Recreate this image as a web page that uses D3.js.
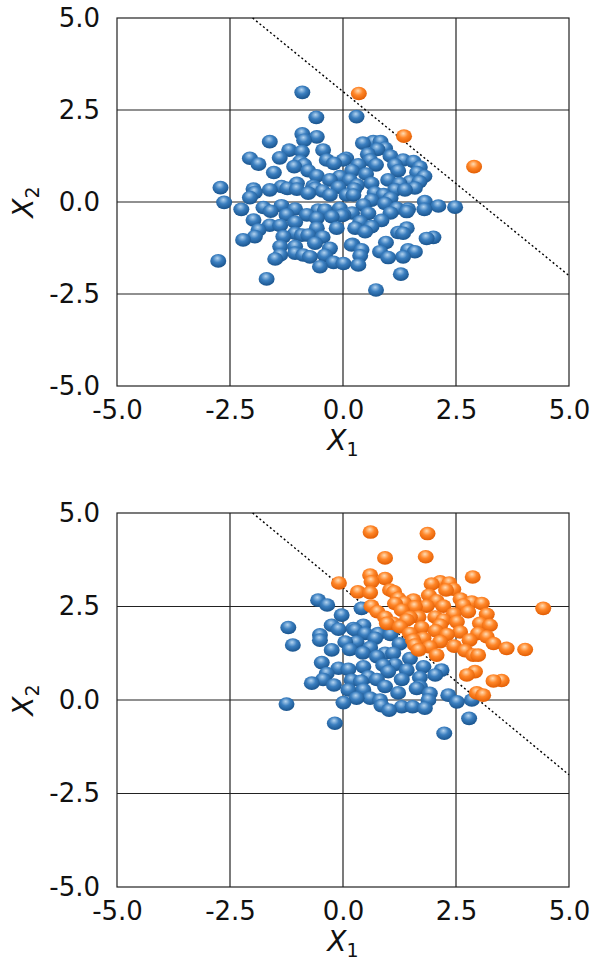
<!DOCTYPE html>
<html>
<head>
<meta charset="utf-8">
<script src="https://cdn.jsdelivr.net/npm/d3@7.9.0/dist/d3.min.js"></script>
<style>
  body { margin: 0; background: #fff; }
  text { font-family: "DejaVu Sans", sans-serif; fill: #111; }
</style>
</head>
<body>
<svg id="chart" width="593" height="965"></svg>
<script>
// values
const ticks = [-5, -2.5, 0, 2.5, 5];
const gridTicks = [-2.5, 0, 2.5];
const boundary = [[-2, 5], [5, -2]];

const topBlue = [
  [-0.90,2.98],[-0.59,2.30],[0.30,2.32],[-0.90,1.85],[-0.58,1.77],[-1.62,1.64],[-0.86,1.68],
  [-1.19,1.41],[-0.91,1.37],[-0.44,1.41],[-0.36,1.14],[-2.06,1.19],[-1.87,1.03],[-1.53,0.80],
  [-1.08,0.96],[-0.86,1.01],[-0.77,0.85],[-0.58,0.71],[0.01,1.14],[-0.07,0.69],[0.44,1.60],
  [0.67,1.64],[0.83,1.64],[0.76,1.43],[0.93,1.46],[0.07,1.19],[0.34,1.01],[0.60,1.14],
  [0.73,1.01],[0.51,0.76],[1.15,1.01],[1.33,1.14],[1.56,1.10],[1.22,0.85],[1.64,0.80],
  [1.00,0.60],[1.48,0.55],[1.69,0.55],[0.15,0.60],[0.63,0.51],[-2.71,0.39],[-2.63,-0.01],
  [-2.06,0.12],[-1.95,0.26],[-1.62,0.33],[-1.76,-0.15],[-1.36,-0.10],[-1.06,-0.19],[-1.23,0.37],
  [-1.02,0.35],[-0.77,0.24],[-0.62,0.37],[-1.98,-0.49],[-1.87,-0.76],[-1.62,-0.63],[-1.39,-0.64],
  [-1.06,-0.55],[-0.80,-0.35],[-0.58,-0.44],[-0.55,-0.22],[-0.40,-0.22],[-0.07,-0.17],[-0.03,-0.37],
  [-0.14,-0.71],[-2.21,-1.03],[-1.95,-0.94],[-1.32,-0.94],[-1.06,-0.85],[-0.91,-0.90],[-0.77,-0.90],
  [-0.58,-0.71],[-1.39,-1.21],[-1.06,-1.21],[-0.62,-1.12],[-1.39,-1.44],[-1.06,-1.39],[-0.88,-1.44],
  [-0.73,-1.49],[-0.29,-1.26],[-1.50,-1.55],[-0.51,-1.76],[-0.21,-1.64],[0.01,-1.67],[0.19,-1.17],
  [-2.76,-1.60],[-1.69,-2.09],[0.08,0.19],[0.23,0.19],[0.63,0.05],[0.93,-0.04],[1.19,-0.17],
  [1.41,-0.26],[1.44,-0.19],[1.81,0.01],[2.11,-0.11],[2.48,-0.14],[0.45,-0.08],[0.56,-0.31],
  [0.01,-0.35],[0.38,-0.54],[0.63,-0.67],[0.49,-0.81],[0.27,-0.71],[1.22,-0.83],[1.41,-0.71],
  [1.33,-0.85],[1.85,-0.99],[2.00,-0.96],[0.21,-1.15],[0.41,-1.30],[0.38,-1.46],[0.34,-1.71],
  [0.82,-1.35],[1.00,-1.51],[1.33,-1.49],[1.44,-1.30],[1.59,-1.35],[1.28,-1.96],[0.73,-2.39],
  [-1.36,0.42],[-1.02,0.51],[-0.66,0.43],[-0.29,0.60],[-1.98,0.35],[-0.29,0.19],[1.15,0.33],
  [1.37,0.33],[1.59,0.38],[0.31,0.46],[-0.20,1.05],[0.20,0.85],[0.90,0.20],[-0.45,-0.95],
  [0.55,1.30],[1.05,1.25],[1.70,0.95],[1.80,0.70],[0.25,0.35],[-0.10,0.40],[-0.45,0.30],
  [0.70,0.25],[1.05,0.10],[1.25,0.50],[-0.25,-0.40],[0.20,-0.30],[0.85,-0.50],[1.05,-0.30],
  [-1.25,-0.35],[-1.60,-0.25],[-0.95,1.10],[-1.40,1.20],[-0.40,-1.45],[0.95,-1.10],[1.80,-0.20],
  [-2.25,-0.20]
];
const topOrange = [[0.35,2.95],[1.35,1.79],[2.90,0.96]];

const bottomBlue = [
  [-0.55,2.67],[-0.35,2.54],[-0.03,2.27],[0.41,2.45],[-1.21,1.94],[-0.10,1.89],[0.23,1.91],
  [0.45,2.00],[-1.11,1.47],[-0.51,1.74],[-0.51,1.60],[-0.25,1.34],[0.15,1.35],[0.27,1.87],
  [0.49,1.78],[0.71,1.65],[0.78,1.78],[0.44,1.26],[0.75,1.16],[0.93,1.25],[1.11,1.25],
  [-0.47,1.00],[-0.10,0.85],[0.12,0.82],[-0.36,0.71],[-0.44,0.55],[-0.69,0.45],[0.19,0.53],
  [0.45,0.89],[0.56,0.62],[0.75,0.55],[0.89,0.93],[1.00,0.76],[0.93,0.36],[1.41,0.80],
  [1.48,1.11],[0.12,0.27],[0.45,0.27],[0.60,0.05],[0.82,0.00],[1.22,0.19],[1.02,-0.27],
  [1.30,-0.18],[1.54,-0.18],[-1.25,-0.11],[0.01,-0.07],[-0.18,-0.62],[1.63,0.31],[1.78,0.89],
  [2.04,0.67],[2.18,0.80],[1.70,0.36],[1.92,0.18],[1.89,0.00],[1.81,-0.22],[2.33,0.13],
  [2.52,-0.05],[2.85,0.00],[2.79,-0.49],[2.24,-0.89],[1.25,1.50],[1.05,1.75],[0.30,1.55],
  [0.05,1.55],[-0.25,2.00],[0.60,1.40],[1.30,0.55],[1.15,0.95],[-0.20,0.40],[0.40,0.50],
  [1.70,0.60],[0.85,-0.15],[0.30,0.05]
];
const bottomOrange = [
  [0.61,4.49],[0.93,3.80],[-0.09,3.13],[0.60,3.34],[0.93,3.25],[0.63,3.16],[0.33,2.89],
  [0.60,2.87],[1.04,2.94],[1.13,2.89],[1.22,2.72],[1.15,2.58],[1.56,2.67],[1.59,2.49],
  [0.63,2.51],[0.76,2.36],[0.93,2.21],[1.11,2.05],[1.41,2.14],[1.48,2.21],[1.87,4.45],
  [1.83,3.83],[2.87,3.29],[1.96,3.10],[2.15,3.16],[2.35,3.13],[2.44,2.96],[2.28,2.94],
  [1.85,2.51],[2.07,2.65],[2.22,2.51],[2.66,2.54],[2.85,2.62],[3.07,2.58],[2.77,2.36],
  [3.18,2.29],[4.43,2.45],[1.67,2.22],[2.04,2.22],[2.22,2.14],[2.52,2.09],[3.03,2.05],
  [3.25,2.00],[1.74,1.94],[1.78,1.65],[2.15,2.00],[2.15,1.56],[2.59,1.82],[2.99,1.78],
  [3.18,1.69],[3.33,1.51],[3.62,1.38],[4.03,1.35],[2.46,1.44],[2.70,1.32],[2.88,1.20],
  [2.99,1.20],[1.92,1.42],[2.07,1.20],[2.74,0.67],[2.92,0.76],[3.33,0.51],[3.51,0.52],
  [2.96,0.19],[3.10,0.13],[0.97,2.05],[1.26,1.96],[1.48,1.78],[1.59,1.47],[1.67,1.34],[1.55,1.60],
  [1.30,2.40],[1.90,2.80],[2.45,2.30],[2.60,2.70],[2.30,1.75],[2.80,1.60],[1.35,2.60],[2.05,1.85]
];

const panels = [
  { top: 18, bottom: 386, blue: topBlue, orange: topOrange },
  { top: 513, bottom: 887, blue: bottomBlue, orange: bottomOrange }
];

const svg = d3.select('#chart');
const defs = svg.append('defs');

function sphere(id, light, mid, dark) {
  const g = defs.append('radialGradient').attr('id', id)
    .attr('cx', '45%').attr('cy', '38%').attr('r', '65%')
    .attr('fx', '45%').attr('fy', '30%');
  g.append('stop').attr('offset', '0%').attr('stop-color', light);
  g.append('stop').attr('offset', '45%').attr('stop-color', mid);
  g.append('stop').attr('offset', '100%').attr('stop-color', dark);
}
sphere('blueBall', '#b4d4f0', '#3b7fc0', '#165089');
sphere('orangeBall', '#ffdcb4', '#ff8628', '#e05a00');

const x = d3.scaleLinear().domain([-5, 5]).range([117, 569]);
const fmt = (d) => d.toFixed(1);

panels.forEach((p) => {
  const y = d3.scaleLinear().domain([-5, 5]).range([p.bottom, p.top]);
  const g = svg.append('g');

  // grid
  g.selectAll('.gx').data(gridTicks).join('line')
    .attr('x1', (d) => x(d)).attr('x2', (d) => x(d))
    .attr('y1', p.top).attr('y2', p.bottom)
    .attr('stroke', '#222').attr('stroke-width', 1.2);
  g.selectAll('.gy').data(gridTicks).join('line')
    .attr('class', 'gy')
    .attr('x1', 117).attr('x2', 569)
    .attr('y1', (d) => y(d)).attr('y2', (d) => y(d))
    .attr('stroke', '#222').attr('stroke-width', 1.2);

  g.append('rect')
    .attr('x', 117).attr('y', p.top)
    .attr('width', 569 - 117).attr('height', p.bottom - p.top)
    .attr('fill', 'none').attr('stroke', '#222').attr('stroke-width', 1.2);

  // axes
  const ax = g.append('g').attr('transform', `translate(0,${p.bottom})`)
    .call(d3.axisBottom(x).tickValues(ticks).tickSize(0).tickPadding(15).tickFormat(fmt));
  const ay = g.append('g').attr('transform', 'translate(117,0)')
    .call(d3.axisLeft(y).tickValues(ticks).tickSize(0).tickPadding(17).tickFormat(fmt));
  [ax, ay].forEach((a) => {
    a.select('.domain').remove();
    a.selectAll('text').attr('font-size', 26).attr('font-family', 'DejaVu Sans').attr('fill', '#111');
  });

  // axis titles
  const xt = g.append('text')
    .attr('x', 343).attr('y', p.bottom + 64)
    .attr('text-anchor', 'middle').attr('font-size', 28);
  xt.append('tspan').attr('font-style', 'italic').text('X');
  xt.append('tspan').attr('font-size', 19).attr('dy', 6).text('1');

  const yt = g.append('text')
    .attr('transform', `translate(33,${(p.top + p.bottom) / 2}) rotate(-90)`)
    .attr('text-anchor', 'middle').attr('font-size', 28);
  yt.append('tspan').attr('font-style', 'italic').text('X');
  yt.append('tspan').attr('font-size', 19).attr('dy', 6).text('2');

  // decision boundary
  g.append('line')
    .attr('x1', x(boundary[0][0])).attr('y1', y(boundary[0][1]))
    .attr('x2', x(boundary[1][0])).attr('y2', y(boundary[1][1]))
    .attr('stroke', '#000').attr('stroke-width', 1.4)
    .attr('stroke-dasharray', '2,2.5');

  // points
  const drawBalls = (data, fill) => {
    const sorted = data.slice().sort((a, b) => b[1] - a[1]);
    g.append('g').selectAll('ellipse').data(sorted).join('ellipse')
      .attr('cx', (d) => x(d[0])).attr('cy', (d) => y(d[1]))
      .attr('rx', 8).attr('ry', 6.8)
      .attr('fill', fill);
  };
  drawBalls(p.blue, 'url(#blueBall)');
  drawBalls(p.orange, 'url(#orangeBall)');
});
</script>
</body>
</html>
